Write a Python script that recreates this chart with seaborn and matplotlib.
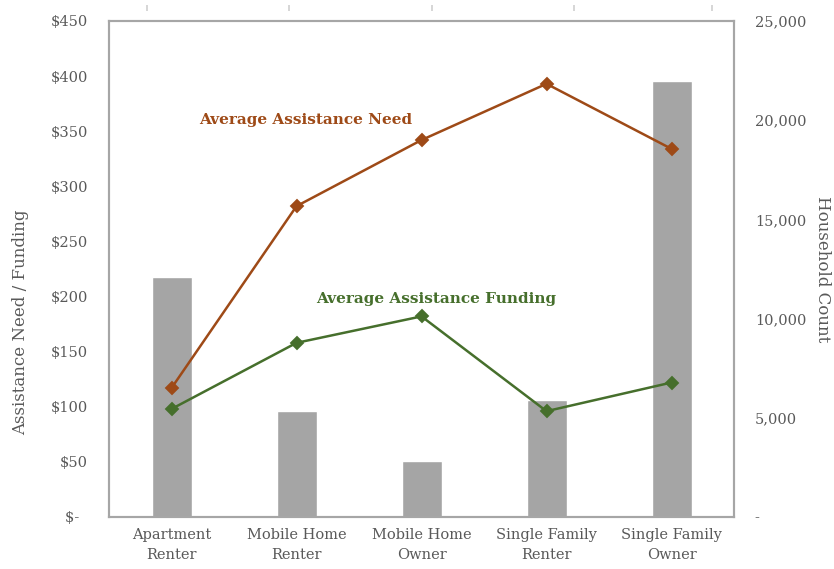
import pandas as pd
import matplotlib.pyplot as plt
import matplotlib.ticker as mticker
import seaborn as sns

# data
categories = ['Apartment\nRenter', 'Mobile Home\nRenter', 'Mobile Home\nOwner',
              'Single Family\nRenter', 'Single Family\nOwner']
household_count = [12100, 5350, 2800, 5900, 22000]
avg_need = [117, 282, 342, 393, 334]
avg_funding = [98, 158, 182, 96, 122]

df = pd.DataFrame({'cat': categories, 'count': household_count,
                   'need': avg_need, 'funding': avg_funding})

sns.set_style('white')
plt.rcParams['font.family'] = ['DejaVu Serif']

need_col = '#9E4A17'
fund_col = '#466F2C'
txt_col = '#595959'

fig = plt.figure(figsize=(8.34, 5.69), dpi=100)
ax_bar = fig.add_axes([0.1307, 0.0914, 0.7494, 0.8717])

# bars: household count (right axis)
sns.barplot(data=df, x='cat', y='count', color='#A5A5A5', saturation=1,
            width=0.32, ax=ax_bar)
ax_bar.set_xlabel('')

# lines: need / funding (left axis)
ax_line = ax_bar.twinx()
sns.pointplot(data=df, x='cat', y='need', color=need_col, markers='D',
              markersize=6, linewidth=1.8, ax=ax_line)
sns.pointplot(data=df, x='cat', y='funding', color=fund_col, markers='D',
              markersize=6, linewidth=1.8, ax=ax_line)

# twinx moves the original ticks to the left, so swap sides afterwards
ax_bar.yaxis.tick_right()
ax_bar.yaxis.set_label_position('right')
ax_line.yaxis.tick_left()
ax_line.yaxis.set_label_position('left')

ax_bar.set_ylim(0, 25000)
ax_bar.yaxis.set_major_locator(mticker.MultipleLocator(5000))
ax_bar.yaxis.set_major_formatter(mticker.FuncFormatter(
    lambda v, p: '-' if v == 0 else f'{v:,.0f}'))
ax_bar.set_ylabel('Household Count', rotation=270, color=txt_col,
                  fontsize=12, labelpad=18)

ax_line.set_ylim(0, 450)
ax_line.yaxis.set_major_locator(mticker.MultipleLocator(50))
# accounting style zero: "$ -" padded on the right
ax_line.yaxis.set_major_formatter(mticker.FuncFormatter(
    lambda v, p: '$-\u2007' if v == 0 else f'${v:,.0f}'))
ax_line.set_ylabel('Assistance Need / Funding', color=txt_col, fontsize=12)
ax_line.yaxis.set_label_coords(-0.128, 0.393)
ax_line.set_xlabel('')
ax_line.set_xlim(-0.5, 4.5)
ax_bar.set_xlim(-0.5, 4.5)

ax_line.text(0.22, 360, 'Average Assistance Need', color=need_col,
             fontsize=11, fontweight='bold', va='center')
ax_line.text(1.155, 198, 'Average Assistance Funding', color=fund_col,
             fontsize=11, fontweight='bold', va='center')

for a in (ax_bar, ax_line):
    a.tick_params(axis='both', length=0, colors=txt_col, labelsize=10.5)
    for s in a.spines.values():
        s.set_color('#A6A6A6')
        s.set_linewidth(1.5)
ax_bar.tick_params(axis='y', pad=15)
ax_line.tick_params(axis='y', pad=15)
ax_bar.tick_params(axis='x', pad=8)
for lbl in ax_bar.get_xticklabels():
    lbl.set_linespacing(1.5)

# faint stray ticks above the frame
top = ax_bar.secondary_xaxis(1.02)
top.set_xticks([-0.2, 0.94, 2.08, 3.22, 4.32])
top.tick_params(length=4, width=1.2, color='#CFCFCF', labeltop=False)
top.spines['top'].set_visible(False)

fig.savefig('out.png', dpi=100)
